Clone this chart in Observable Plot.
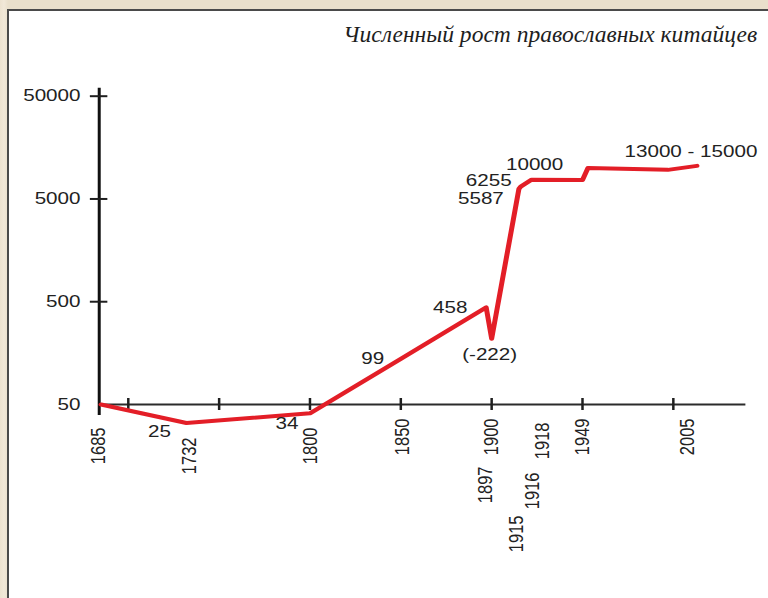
<!DOCTYPE html>
<html>
<head>
<meta charset="utf-8">
<script src="https://cdn.jsdelivr.net/npm/d3@7"></script>
<script src="https://cdn.jsdelivr.net/npm/@observablehq/plot@0.6"></script>
<style>
  html, body { margin: 0; padding: 0; }
  #wrap { position: relative; width: 768px; height: 598px; overflow: hidden;
    background: linear-gradient(90deg, #ece2cf 0px, #f1e8d8 4px, #e9dfcb 8px); }
  #panel { position: absolute; left: 7px; top: 9px; width: 780px; height: 600px;
    background: #fff; border-left: 2px solid #4a4a4a; border-top: 2px solid #4a4a4a; }
  #title { position: absolute; right: 11px; top: 21px; white-space: nowrap;
    font-family: "Liberation Serif", "Times New Roman", serif; font-style: italic;
    font-size: 24px; line-height: 27px; color: #1e1e1e; transform-origin: 100% 50%; }
  #chart { position: absolute; left: 0; top: 0; transform-origin: 0 0; }
</style>
</head>
<body>
<div id="wrap">
  <div id="panel"></div>
  <div id="title">Численный рост православных китайцев</div>
  <div id="chart"></div>
</div>
<script>
// ---- data ----
const years     = [1685, 1732, 1800, 1850, 1897, 1900, 1915, 1916, 1922, 1950, 1953, 1997, 2013];
const believers = [50,   33,   41,   139,  440,  218,  6270, 6600, 7700, 7650, 10000, 9600, 10500];

const valueLabels     = ["25", "34", "99", "458", "(-222)", "5587", "6255", "10000", "13000 - 15000"];
const valueLabelYears = [1732, 1800, 1850, 1897, 1900, 1915, 1916, 1922, 2013];

const xLabels     = ["1685", "1732", "1800", "1850", "1897", "1900", "1915", "1916", "1918", "1949", "2005"];
const xLabelYears = [1685, 1732, 1800, 1850, 1897, 1900, 1915, 1916, 1918, 1949, 2005];

const xTickYears  = [1700, 1750, 1800, 1850, 1900, 1950, 2000];
const yTicks      = [50, 500, 5000, 50000];
const yTickLabels = ["50", "500", "5000", "50000"];

// ---- layout ----
const S = 1.25;            // horizontal stretch of the original artwork
const W = 768 / S;
const FS = 16.5;
const INK = "#222";

const points = years.map((y, i) => ({year: y, n: believers[i]}));
const valueAt = y => believers[years.indexOf(y)];

// screen-pixel nudges for crowded labels [dx, dy]
const xLabelNudge = {
  1685: [-2.7, 23], 1732: [2.5, 33], 1800: [0.6, 23], 1850: [1.8, 14],
  1897: [-1.3, 62], 1900: [0, 14], 1915: [-2.8, 111], 1916: [11.4, 68],
  1918: [17.8, 18], 1949: [1.7, 14], 2005: [5, 14]
};
const valueNudge = {
  "25": [-27, 8.5], "34": [-23, 10], "99": [-28, 0], "458": [-36, 0],
  "(-222)": [-2, 16], "5587": [-38, 10], "6255": [-32, -6], "10000": [3, -15],
  "13000 - 15000": [-6, -14]
};

const font = "'Liberation Sans', Arial, Helvetica, sans-serif";

const xLabelMarks = xLabels.map((t, i) => {
  const [dx, dy] = xLabelNudge[t];
  return Plot.text([{year: xLabelYears[i], t}], {
    x: "year", y: () => 50, text: "t", rotate: -90, textAnchor: "end", lineAnchor: "middle",
    dx: dx / S, dy, fontSize: FS, fill: INK, fontFamily: font
  });
});

const valueMarks = valueLabels.map((t, i) => {
  const [dx, dy] = valueNudge[t];
  const yr = valueLabelYears[i];
  return Plot.text([{year: yr, n: valueAt(yr), t}], {
    x: "year", y: "n", text: "t", textAnchor: "middle", lineAnchor: "middle",
    dx: dx / S, dy, fontSize: FS, fill: INK, fontFamily: font
  });
});

const chart = Plot.plot({
  width: W,
  height: 598,
  marginLeft: 98.6 / S,
  marginRight: W - 745.4 / S,
  marginTop: 95.7,
  marginBottom: 194,
  x: {domain: [1684, 2040], axis: null},
  y: {type: "log", domain: [50, 50000], axis: null},
  style: {background: "transparent", overflow: "visible", fontFamily: font},
  marks: [
    Plot.ruleY([50], {x1: 1684, x2: 2040, stroke: "#2b2b2b", strokeWidth: 2}),
    Plot.ruleX(xTickYears, {x: d => d, y1: () => 50, y2: () => 50, insetTop: -6, insetBottom: -6, stroke: "#1f1f1f", strokeWidth: 2}),
    Plot.ruleX([1684], {x: d => d, y1: () => 50000, y2: () => 50, insetTop: -8, insetBottom: -11, stroke: "#111", strokeWidth: 2.4}),
    Plot.ruleY(yTicks.slice(1), {y: d => d, x1: () => 1684, x2: () => 1684, insetLeft: -7, insetRight: -7, stroke: "#1f1f1f", strokeWidth: 2}),
    Plot.text(yTicks, {x: () => 1684, y: d => d, text: (d, i) => yTickLabels[i], dx: -15, textAnchor: "end",
      fontSize: FS, fill: INK, fontFamily: font}),
    Plot.line(points, {x: "year", y: "n", stroke: "#e31e27", strokeWidth: 4, strokeLinejoin: "round", strokeLinecap: "round"}),
    ...xLabelMarks,
    ...valueMarks
  ]
});

chart.style.transform = `scaleX(${S})`;
chart.style.transformOrigin = "0 0";
chart.style.maxWidth = "none";
document.getElementById("chart").appendChild(chart);

// fit the title to the original width
const title = document.getElementById("title");
const tw = title.getBoundingClientRect().width;
title.style.transform = `scaleX(${414 / tw})`;
</script>
</body>
</html>
